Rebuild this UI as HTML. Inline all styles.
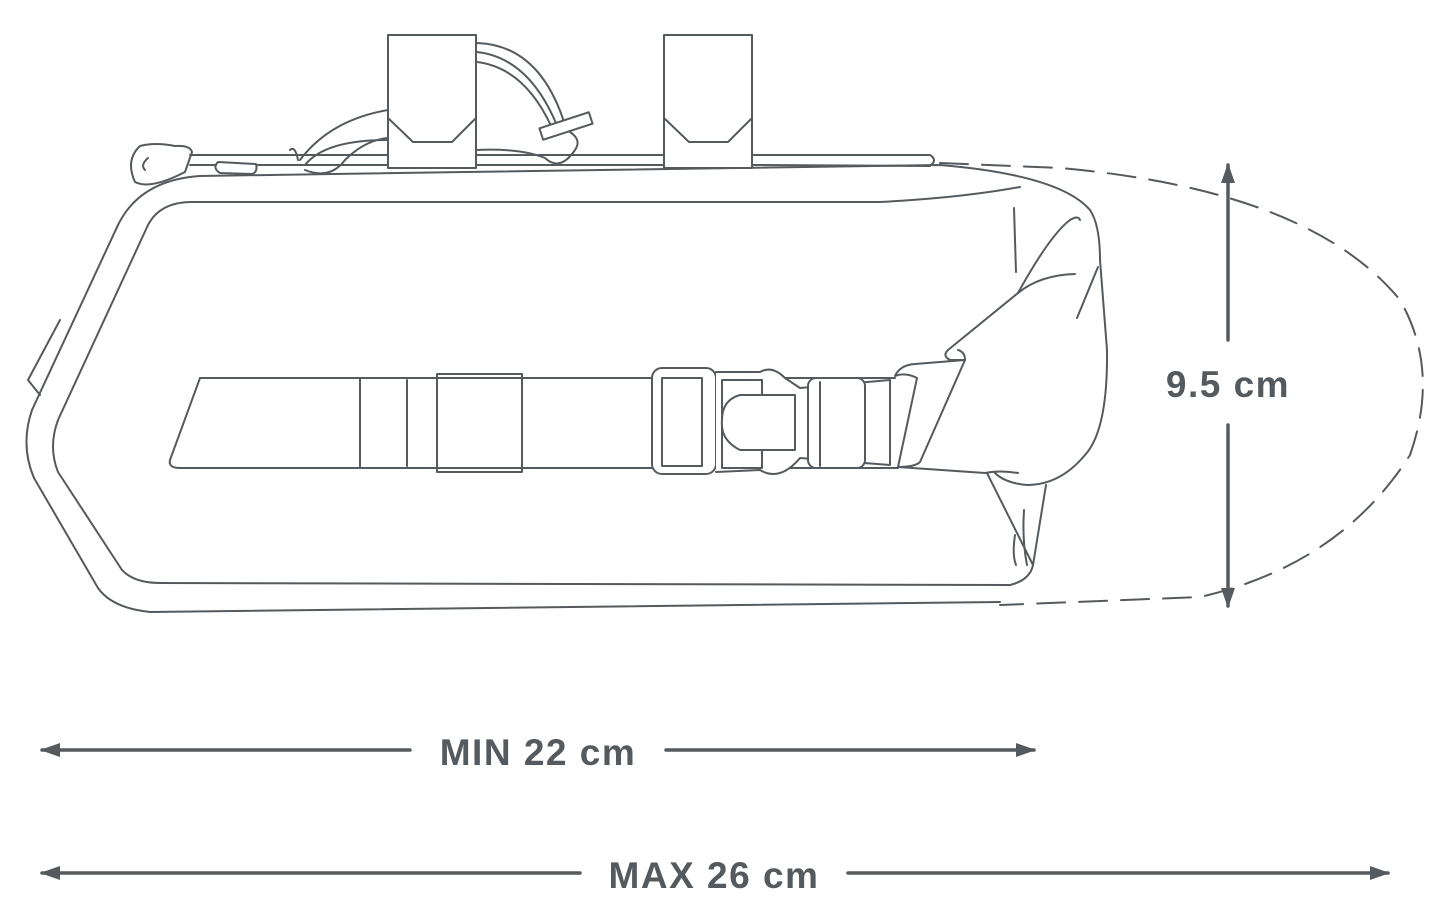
<!DOCTYPE html>
<html><head><meta charset="utf-8"><style>
html,body{margin:0;padding:0;background:#fff;width:1435px;height:904px;overflow:hidden}
svg{display:block}
text{font-family:"Liberation Sans",sans-serif;font-weight:bold;fill:#555a5e;font-size:37px;letter-spacing:1.5px}
</style></head><body>
<svg width="1435" height="904" viewBox="0 0 1435 904">
<defs>
<marker id="ah" markerWidth="20" markerHeight="14" refX="18" refY="7" orient="auto" markerUnits="userSpaceOnUse" viewBox="0 0 20 14">
<path d="M0,0 L20,7 L0,14 z" fill="#555a5e"/></marker>
</defs>
<g fill="none" stroke="#555a5e" stroke-width="2" stroke-linejoin="round" stroke-linecap="round">
<!-- dashed extension -->
<path d="M940,163 L1060,168 Q1310,190 1400,300 Q1440,370 1410,455 Q1340,565 1200,597 L1000,605" stroke-dasharray="28,14"/>
<!-- outer shell -->
<path d="M200,176 Q140,180 118,225 L32,410 Q20,445 34,478 L98,588 Q112,608 150,612 L1000,602"/>
<path d="M200,176 L940,165 Q1060,175 1090,210 Q1100,225 1100,260 L1107,350 Q1108,430 1085,455 Q1060,485 1027,485 Q1005,483 995,473"/>
<path d="M60,320 L28,380 L40,395"/>
<!-- inner panel -->
<path d="M192,202 Q160,202 148,225 L58,420 Q48,447 58,472 L122,570 Q134,583 160,583 L1010,585 Q1030,580 1033,565"/>
<path d="M192,202 L880,202 Q960,198 1020,187"/>
<!-- roll -->
<path d="M1014,208 L1016,272"/>
<path d="M1018,293 Q1050,235 1070,220 Q1078,215 1080,220"/>
<path d="M1018,293 Q1040,275 1075,274"/>
<path d="M1098,267 L1077,318"/>
<path d="M1018,293 L948,350 Q942,356 950,360 L965,360 Q965,352 958,350"/>
<path d="M895,376 Q900,365 915,364 L965,360 L920,462 Q915,467 898,467 L917,378 Q905,372 895,376"/>
<path d="M898,467 L985,473 Q1000,470 1018,473"/>
<path d="M987,473 L1033,565 L1046,485"/>
<path d="M1024,510 Q1022,540 1027,565 M1015,535 Q1012,555 1016,565"/>
<!-- strap -->
<path d="M200,378 L895,378 M170,460 L200,378 M170,460 Q168,468 180,468 L898,468"/>
<rect x="360" y="378" width="77" height="90"/>
<line x1="407" y1="380" x2="407" y2="466"/>
<rect x="437" y="374" width="85" height="98"/>
<!-- buckle -->
<rect x="652" y="368" width="64" height="106" rx="10" fill="#fff"/>
<rect x="662" y="378" width="40" height="88"/>
<path d="M716,372 L760,372 Q772,365 785,378 L800,388 L890,380 L890,465 L800,458 Q780,482 760,470 L716,472" fill="#fff"/>
<rect x="722" y="380" width="40" height="88"/>
<path d="M740,395 L795,395 L795,450 L740,450 Q720,440 722,420 Q722,400 740,395" fill="#fff"/>
<rect x="808" y="378" width="57" height="90" rx="8" fill="#fff"/>
<line x1="820" y1="382" x2="820" y2="466"/>
<!-- top straps -->
<path d="M477,43 Q540,45 565,125 M477,52 Q530,58 558,128 M477,62 Q525,68 552,128"/>
<rect x="388" y="35" width="88" height="133" fill="#fff"/>
<path d="M388,118 L413,142 L452,142 L476,118"/>
<rect x="664" y="35" width="88" height="133" fill="#fff"/>
<path d="M664,118 L689,142 L728,142 L752,118"/>
<!-- drawcord -->
<path d="M190,155 L388,155 M476,155 L664,155 M752,155 L930,155 Q938,160 930,166 L752,165 M664,165 L476,165 M388,165 L190,165"/>
<path d="M140,146 Q125,160 135,182 Q150,190 185,172 L192,152 Q190,145 175,146 Q155,142 140,146z"/>
<path d="M148,158 Q140,165 145,170"/>
<path d="M290,150 Q295,145 298,160 M305,165 Q325,140 388,140 M300,160 Q330,120 388,110 M305,170 Q330,180 345,160 Q365,140 388,138"/>
<path d="M476,150 Q520,148 545,158 Q560,172 575,150 Q582,140 570,132"/>
<rect x="540" y="120" width="52" height="12" transform="rotate(-18 566 126)" fill="#fff"/>
<path d="M218,162 L256,164 Q258,172 252,174 L220,173 Q212,168 218,162z" fill="#fff"/>
<!-- arrows -->
<line x1="1228" y1="340" x2="1228" y2="165" stroke-width="3.5" marker-end="url(#ah)"/>
<line x1="1228" y1="425" x2="1228" y2="606" stroke-width="3.5" marker-end="url(#ah)"/>
<line x1="410" y1="750" x2="42" y2="750" stroke-width="3.5" marker-end="url(#ah)"/>
<line x1="666" y1="750" x2="1034" y2="750" stroke-width="3.5" marker-end="url(#ah)"/>
<line x1="580" y1="873" x2="42" y2="873" stroke-width="3.5" marker-end="url(#ah)"/>
<line x1="848" y1="873" x2="1388" y2="873" stroke-width="3.5" marker-end="url(#ah)"/>
</g>
<text x="1228" y="397" text-anchor="middle">9.5 cm</text>
<text x="538" y="765" text-anchor="middle">MIN 22 cm</text>
<text x="714" y="888" text-anchor="middle">MAX 26 cm</text>
</svg>
</body></html>
